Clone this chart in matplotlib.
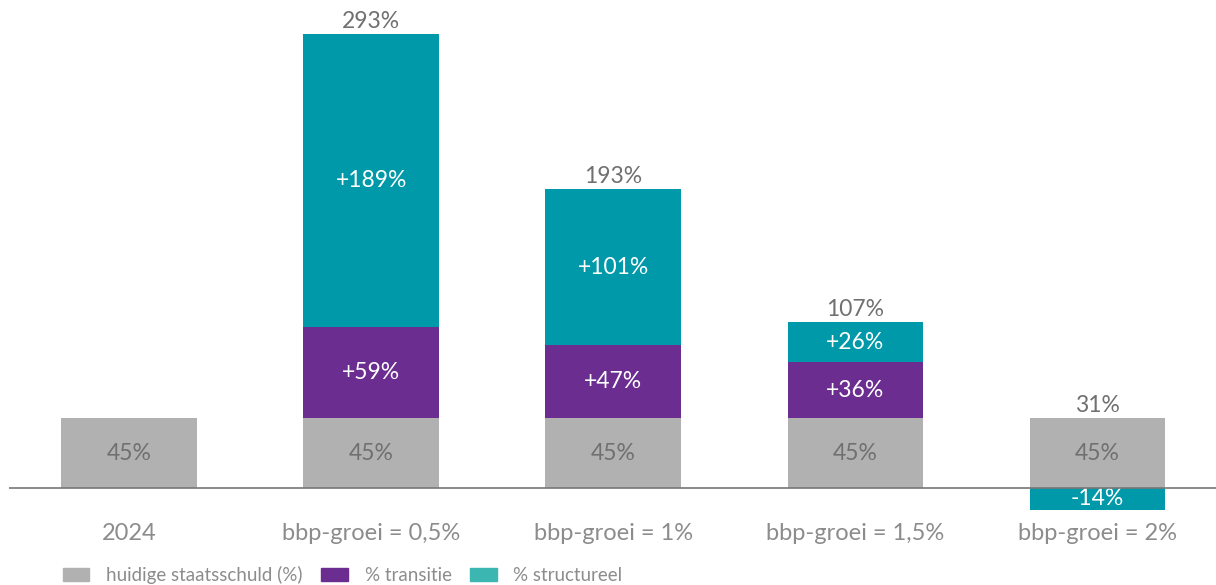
import matplotlib
matplotlib.use('Agg')
import matplotlib.pyplot as plt
from matplotlib.patches import Patch
import numpy as np

plt.rcParams['font.family'] = ['Lato', 'DejaVu Sans']

categories = ['2024', 'bbp-groei = 0,5%', 'bbp-groei = 1%', 'bbp-groei = 1,5%', 'bbp-groei = 2%']
schuld = [45, 45, 45, 45, 45]
transitie = [0, 59, 47, 36, 0]
structureel = [0, 189, 101, 26, -14]
totaal_labels = ['', '293%', '193%', '107%', '31%']

c_gray = '#b1b1b1'
c_purple = '#6b2d90'
c_teal = '#0099a9'
c_teal_leg = '#3bb6b0'
txt_dark = '#707070'
txt_light = '#8c8c8c'

fig = plt.figure(figsize=(12.16, 5.85), dpi=100)
ax = fig.add_axes([9 / 1216, 66 / 585, 1 - 9 / 1216, 496 / 585])

x = np.arange(len(categories))
w = 0.56
ax.bar(x, schuld, w, color=c_gray)
ax.bar(x, transitie, w, bottom=schuld, color=c_purple)
bottom_s = [s + t if v >= 0 else 0 for s, t, v in zip(schuld, transitie, structureel)]
ax.bar(x, structureel, w, bottom=bottom_s, color=c_teal)

fs = 16.5
for i in range(len(x)):
    ax.text(x[i], schuld[i] / 2, f'{schuld[i]}%', ha='center', va='center', color=txt_dark, fontsize=fs)
    if transitie[i]:
        ax.text(x[i], schuld[i] + transitie[i] / 2, f'+{transitie[i]}%', ha='center', va='center',
                color='white', fontsize=fs)
    v = structureel[i]
    if v:
        lab = f'+{v}%' if v > 0 else f'{v}%'
        ax.text(x[i], bottom_s[i] + v / 2, lab, ha='center', va='center', color='white', fontsize=fs)
    top = schuld[i] + transitie[i] + max(v, 0)
    if totaal_labels[i]:
        ax.text(x[i], top + 1.5, totaal_labels[i], ha='center', va='bottom', color=txt_dark, fontsize=fs)

ax.axhline(0, color='#777777', lw=1.2, zorder=5)
ax.set_xlim(-0.496, 4.49)
ax.set_ylim(-20, 300)
ax.set_yticks([])
ax.set_xticks(x)
ax.set_xticklabels(categories, fontsize=17, color=txt_light)
ax.tick_params(axis='x', length=0, pad=3)
for s in ax.spines.values():
    s.set_visible(False)

handles = [Patch(color=c_gray), Patch(color=c_purple), Patch(color=c_teal_leg)]
fig.legend(handles, ['huidige staatsschuld (%)', '% transitie', '% structureel'],
           loc='lower left', bbox_to_anchor=(0.038, -0.027), ncol=3, frameon=False,
           fontsize=13.5, labelcolor=txt_light, handlelength=1.4, handleheight=0.7,
           columnspacing=1.0, handletextpad=0.9)

fig.savefig('out.png', dpi=100)
